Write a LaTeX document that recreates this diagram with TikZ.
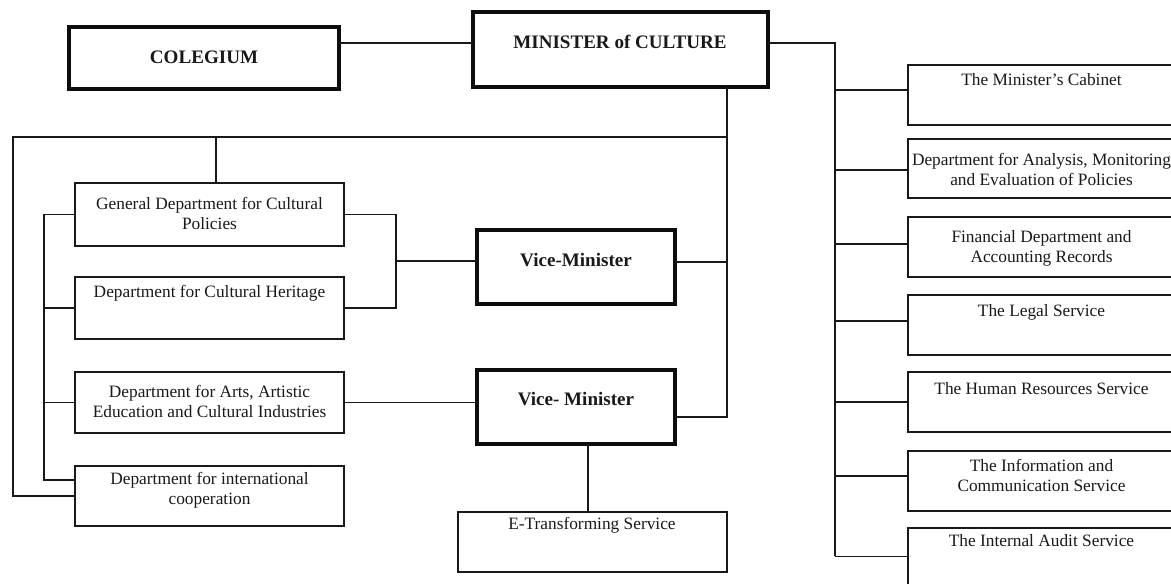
\documentclass[tikz,border=0pt]{standalone}
\usepackage{fontspec}
\setmainfont{Liberation Serif}
\newcommand\mkbox[6]{\node[#2, minimum width={(#5-(#3))*0.75pt}, minimum height={(#6-(#4))*0.75pt}] (#1) at ({(#3+#5)/2},{(#4+#6)/2}) {};}
\begin{document}
\begin{tikzpicture}[x=0.75pt,y=-0.75pt,
  thinbox/.style={draw=black!90, line width=1.1pt, inner sep=0pt, outer sep=0pt},
  thickbox/.style={draw=black!95, line width=2.4pt, inner sep=0pt, outer sep=0pt},
  txt/.style={font=\fontsize{13}{15}\selectfont, align=center, inner sep=0pt, text=black!90},
  btxt/.style={font=\fontsize{14.3}{17}\selectfont\bfseries, inner sep=0pt, text=black!90},
  conn/.style={draw=black!90, line width=1.1pt}]
\useasboundingbox (0,0) rectangle (1171,583);
\clip (0,0) rectangle (1171,583);
% boxes
\mkbox{coleg}{thickbox}{69}{27}{339}{89}
\mkbox{minis}{thickbox}{473}{12}{768}{87}
\mkbox{vm1}{thickbox}{477}{230}{675}{304}
\mkbox{vm2}{thickbox}{477}{370}{675}{444}
\mkbox{etr}{thinbox}{458}{512}{727}{572}
\mkbox{gen}{thinbox}{75}{183}{344}{246}
\mkbox{her}{thinbox}{75}{277}{344}{339}
\mkbox{arts}{thinbox}{75}{372}{344}{433}
\mkbox{intl}{thinbox}{75}{466}{344}{526}
\mkbox{cab}{thinbox}{908}{65}{1175}{125}
\mkbox{ana}{thinbox}{908}{139}{1175}{198}
\mkbox{fin}{thinbox}{908}{217}{1175}{277}
\mkbox{leg}{thinbox}{908}{295}{1175}{355}
\mkbox{hr}{thinbox}{908}{372}{1175}{432}
\mkbox{inf}{thinbox}{908}{451}{1175}{511}
\mkbox{aud}{thinbox}{908}{528}{1175}{590}
% texts
\node[btxt] (colegT) at (204,57) {COLEGIUM};
\node[btxt] (minisT) at (620,42) {MINISTER of CULTURE};
\node[btxt] (vm1T) at (576,260) {Vice-Minister};
\node[btxt] (vm2T) at (576,399) {Vice- Minister};
\node[txt] (etrT) at (592,525) {E-Transforming Service};
\node[txt] (genT) at (209.5,213) {General Department for Cultural\\Policies};
\node[txt] (herT) at (209.5,293) {Department for Cultural Heritage};
\node[txt] (artsT) at (209.5,401.5) {Department for Arts, Artistic\\Education and Cultural Industries};
\node[txt] (intlT) at (209.5,490) {Department for international\\cooperation};
\node[txt] (cabT) at (1041.5,80) {The Minister’s Cabinet};
\node[txt] (anaT) at (1041.5,169) {Department for Analysis, Monitoring\\and Evaluation of Policies};
\node[txt] (finT) at (1041.5,248) {Financial Department and\\Accounting Records};
\node[txt] (legT) at (1041.5,312) {The Legal Service};
\node[txt] (hrT) at (1041.5,389) {The Human Resources Service};
\node[txt] (infT) at (1041.5,475) {The Information and\\Communication Service};
\node[txt] (audT) at (1041.5,541) {The Internal Audit Service};
% helper coordinates
\coordinate (rtop) at (835,43);
\coordinate (mv) at (727,137);
\coordinate (lft) at (13,137);
\coordinate (gx) at (216,137);
\coordinate (ix) at (44,214);
\coordinate (bx) at (396,261);
% connectors
\draw[conn] ([yshift=4.9pt]minis.west) -- ([yshift=4.9pt]minis.west -| coleg.east);
\draw[conn] ([yshift=4.9pt]minis.east) -- ([yshift=4.9pt]minis.east -| rtop) -- ([yshift=2pt]aud.west -| rtop);
\foreach \b/\s in {cab/3.75pt,ana/-1pt,fin/2.25pt,leg/3pt,hr/0pt,inf/3.75pt,aud/2pt}
  \draw[conn] ([yshift=\s]\b.west) -- ([yshift=\s]\b.west -| rtop);
\draw[conn] (minis.south -| mv) -- ([yshift=-7.5pt]vm2.east -| mv) -- ([yshift=-7.5pt]vm2.east);
\draw[conn] ([yshift=3.75pt]vm1.east) -- ([yshift=3.75pt]vm1.east -| mv);
\draw[conn] (mv) -- (lft) -- (lft |- intl.west) -- (intl.west);
\draw[conn] (gx) -- (gx |- gen.north);
\draw[conn] (gen.west) -- (gen.west -| ix) -- ([yshift=12pt]intl.west -| ix) -- ([yshift=12pt]intl.west);
\draw[conn] (her.west) -- (her.west -| ix);
\draw[conn] (arts.west) -- (arts.west -| ix);
\draw[conn] (gen.east) -- (gen.east -| bx) -- (her.east -| bx) -- (her.east);
\draw[conn] ([yshift=4.5pt]vm1.west -| bx) -- ([yshift=4.5pt]vm1.west);
\draw[conn] (arts.east) -- (arts.east -| vm2.west);
\draw[conn] ([xshift=9pt]vm2.south) -- ([xshift=9pt]vm2.south |- etr.north);
\end{tikzpicture}
\end{document}
